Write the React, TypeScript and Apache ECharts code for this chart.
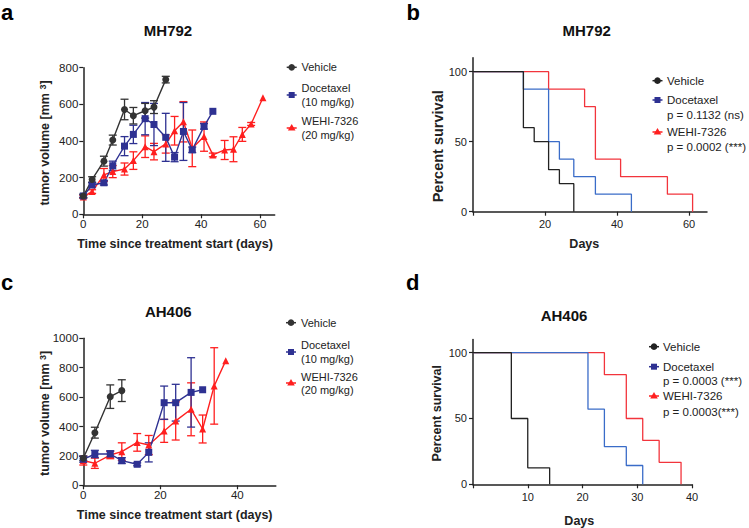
import React, { useEffect, useRef } from "react";
import * as echarts from "echarts";

const FONT = "'Liberation Sans', Arial, Helvetica, sans-serif";
const C_AXIS = "#222222";
const C_VEH = "#333333";
const C_DOC = "#2e3192";
const C_WEHI = "#ff1f1f";
const C_S_BLACK = "#222222";
const C_S_BLUE = "#3a6cc8";
const C_S_RED = "#f2343c";

// ---- Panel a: MH792 tumor volume ----
const mhVehDays = [0, 3, 7, 10, 14, 17, 21, 24, 28];
const mhVehMean = [100, 190, 290, 405, 572, 538, 565, 585, 735];
const mhVehErr = [10, 15, 27, 27, 56, 45, 40, 35, 18];

const mhDocDays = [0, 3, 7, 10, 14, 17, 21, 24, 28, 31, 34, 37, 41, 44];
const mhDocMean = [100, 160, 172, 265, 372, 436, 522, 490, 420, 312, 452, 352, 480, 562];
const mhDocErr = [8, 12, 12, 25, 52, 50, 88, 115, 131, 25, 158, 15, 15, 0];

const mhWehiDays = [0, 3, 7, 10, 14, 17, 21, 24, 28, 31, 34, 37, 41, 44, 48, 51, 54, 57, 61];
const mhWehiMean = [95, 124, 215, 233, 247, 293, 369, 342, 384, 456, 505, 360, 424, 324, 351, 355, 436, 493, 636];
const mhWehiErr = [8, 10, 35, 33, 33, 48, 59, 45, 50, 78, 110, 100, 80, 10, 52, 68, 38, 8, 0];

// ---- Panel b: MH792 survival ----
const mhSVehDays = [0, 14, 17, 21, 24, 28];
const mhSVehPct = [100, 60, 50, 30, 20, 0];
const mhSDocDays = [0, 14, 21, 24, 28, 34, 44];
const mhSDocPct = [100, 87.5, 50, 37.5, 25, 12.5, 0];
const mhSWehiDays = [0, 21, 31, 34, 41, 54, 61];
const mhSWehiPct = [100, 87.5, 75, 37.5, 25, 12.5, 0];

// ---- Panel c: AH406 tumor volume ----
const ahVehDays = [0, 3, 7, 10];
const ahVehMean = [184, 358, 603, 644];
const ahVehErr = [15, 37, 80, 74];

const ahDocDays = [0, 3, 7, 10, 14, 17, 21, 24, 28, 31];
const ahDocMean = [177, 213, 213, 168, 143, 224, 562, 562, 632, 650];
const ahDocErr = [20, 25, 22, 20, 10, 65, 113, 125, 236, 0];

const ahWehiDays = [0, 3, 7, 10, 14, 17, 21, 24, 28, 31, 34, 37];
const ahWehiMean = [168, 150, 206, 229, 292, 274, 370, 438, 517, 383, 676, 848];
const ahWehiErr = [30, 35, 25, 60, 60, 65, 78, 130, 180, 95, 260, 0];

// ---- Panel d: AH406 survival ----
const ahSVehDays = [0, 7, 10, 14];
const ahSVehPct = [100, 50, 12.5, 0];
const ahSDocDays = [0, 21, 24, 28, 31];
const ahSDocPct = [100, 57.1, 28.6, 14.3, 0];
const ahSWehiDays = [0, 24, 28, 31, 34, 38];
const ahSWehiPct = [100, 83.3, 50, 33.3, 16.7, 0];

// ---- tick labels ----
const aXTicks = [0, 20, 40, 60];
const aYTicks = [0, 200, 400, 600, 800];
const bXTicks = [20, 40, 60];
const bXTickMarks = [0, 20, 40, 60];
const cXTicks = [0, 20, 40];
const cYTicks = [0, 200, 400, 600, 800, 1000];
const dXTicks = [10, 20, 30, 40];
const dXTickMarks = [0, 10, 20, 30, 40];
const survYTicks = [0, 50, 100];

const zip = (x: number[], y: number[]) => x.map((d, i) => [d, y[i]]);
const zip3 = (x: number[], y: number[], e: number[]) => x.map((d, i) => [d, y[i], e[i]]);

function errSeries(color: string, idx: number, data: number[][]) {
  return {
    type: "custom",
    xAxisIndex: idx,
    yAxisIndex: idx,
    data,
    silent: true,
    z: 2,
    encode: { x: 0, y: 1 },
    renderItem: (_p: any, api: any) => {
      const x = api.value(0);
      const y = api.value(1);
      const e = api.value(2);
      if (!e) return { type: "group", children: [] };
      const top = api.coord([x, y + e]);
      const bot = api.coord([x, y - e]);
      const hw = 4;
      const style = { stroke: color, lineWidth: 1.3 };
      return {
        type: "group",
        children: [
          { type: "line", shape: { x1: top[0], y1: top[1], x2: bot[0], y2: bot[1] }, style },
          { type: "line", shape: { x1: top[0] - hw, y1: top[1], x2: top[0] + hw, y2: top[1] }, style },
          { type: "line", shape: { x1: bot[0] - hw, y1: bot[1], x2: bot[0] + hw, y2: bot[1] }, style },
        ],
      };
    },
  };
}

function lineSeries(name: string, color: string, idx: number, data: number[][], symbol: string, size: number) {
  return {
    type: "line",
    name,
    xAxisIndex: idx,
    yAxisIndex: idx,
    data,
    symbol,
    symbolSize: size,
    z: 3,
    lineStyle: { color, width: 1.4 },
    itemStyle: { color },
  };
}

function survSeries(name: string, color: string, idx: number, data: number[][]) {
  return {
    type: "line",
    name,
    xAxisIndex: idx,
    yAxisIndex: idx,
    data,
    step: "end",
    symbol: "none",
    showSymbol: false,
    lineStyle: { color, width: 1.3 },
    itemStyle: { color },
  };
}

const plain = (v: number) => String(v);

function xAxis(idx: number, max: number, labels: number[], ticks: number[], margin: number, fs: number) {
  return {
    type: "value",
    gridIndex: idx,
    min: 0,
    max,
    axisLine: { show: true, onZero: false, lineStyle: { color: C_AXIS, width: 1.5 } },
    axisTick: { show: true, length: 4, customValues: ticks, lineStyle: { color: C_AXIS, width: 1.2 } },
    axisLabel: { customValues: labels, formatter: plain, color: C_AXIS, fontFamily: FONT, fontSize: fs, margin },
    splitLine: { show: false },
  };
}

function yAxis(idx: number, max: number, labels: number[], margin: number, fs: number) {
  return {
    type: "value",
    gridIndex: idx,
    min: 0,
    max,
    axisLine: { show: true, onZero: false, lineStyle: { color: C_AXIS, width: 1.5 } },
    axisTick: { show: true, length: 4, customValues: labels, lineStyle: { color: C_AXIS, width: 1.2 } },
    axisLabel: { customValues: labels, formatter: plain, color: C_AXIS, fontFamily: FONT, fontSize: fs, margin },
    splitLine: { show: false },
  };
}

function txt(x: number, y: number, text: string, opts: any = {}) {
  return {
    type: "text",
    x,
    y,
    rotation: opts.rotation || 0,
    style: {
      text,
      fill: opts.fill || C_AXIS,
      fontFamily: FONT,
      fontSize: opts.fontSize || 11,
      fontWeight: opts.bold ? "bold" : "normal",
      align: opts.align || "left",
      textAlign: opts.align || "left",
      verticalAlign: "middle",
      textVerticalAlign: "middle",
      rich: opts.rich,
    },
  };
}

function legendSym(cx: number, cy: number, color: string, kind: string) {
  const els: any[] = [
    { type: "line", shape: { x1: cx - 5, y1: cy, x2: cx + 5, y2: cy }, style: { stroke: color, lineWidth: 1.5 } },
  ];
  if (kind === "circle") els.push({ type: "circle", shape: { cx, cy, r: 3.3 }, style: { fill: color } });
  if (kind === "rect") els.push({ type: "rect", shape: { x: cx - 3, y: cy - 3, width: 6, height: 6 }, style: { fill: color } });
  if (kind === "tri")
    els.push({
      type: "polygon",
      shape: { points: [[cx, cy - 4], [cx + 3.8, cy + 2.6], [cx - 3.8, cy + 2.6]] },
      style: { fill: color },
    });
  return els;
}

export default function App() {
  const ref = useRef<HTMLDivElement>(null);
  useEffect(() => {
    document.body.style.margin = "0";
    if (!ref.current) return;
    const chart = echarts.init(ref.current, undefined, { renderer: "svg" });
    const supRich = {
      s: { fontSize: 9, fontWeight: "bold", fontFamily: FONT, fill: C_AXIS, verticalAlign: "top" },
    };
    const option: any = {
      animation: false,
      backgroundColor: "#ffffff",
      textStyle: { fontFamily: FONT },
      grid: [
        { left: 83.3, top: 67.7, width: 191.4, height: 146.6 },
        { left: 473, top: 57.7, width: 234, height: 154 },
        { left: 83.3, top: 338.3, width: 192.5, height: 147 },
        { left: 473, top: 339.5, width: 219, height: 144.8 },
      ],
      xAxis: [
        xAxis(0, 65, aXTicks, aXTicks, 4, 11.5),
        xAxis(1, 65, bXTicks, bXTickMarks, 7, 11),
        xAxis(2, 50, cXTicks, cXTicks, 4, 11.5),
        xAxis(3, 40, dXTicks, dXTickMarks, 7, 11),
      ],
      yAxis: [
        yAxis(0, 800, aYTicks, 5, 11.5),
        yAxis(1, 110, survYTicks, 6, 11),
        yAxis(2, 1000, cYTicks, 5, 11.5),
        yAxis(3, 110, survYTicks, 6, 11),
      ],
      series: [
        // panel a
        errSeries(C_WEHI, 0, zip3(mhWehiDays, mhWehiMean, mhWehiErr)),
        errSeries(C_DOC, 0, zip3(mhDocDays, mhDocMean, mhDocErr)),
        errSeries(C_VEH, 0, zip3(mhVehDays, mhVehMean, mhVehErr)),
        lineSeries("WEHI-7326 (20 mg/kg)", C_WEHI, 0, zip(mhWehiDays, mhWehiMean), "triangle", 7),
        lineSeries("Docetaxel (10 mg/kg)", C_DOC, 0, zip(mhDocDays, mhDocMean), "rect", 7),
        lineSeries("Vehicle", C_VEH, 0, zip(mhVehDays, mhVehMean), "circle", 7),
        // panel b
        survSeries("WEHI-7326 survival MH792", C_S_RED, 1, zip(mhSWehiDays, mhSWehiPct)),
        survSeries("Docetaxel survival MH792", C_S_BLUE, 1, zip(mhSDocDays, mhSDocPct)),
        survSeries("Vehicle survival MH792", C_S_BLACK, 1, zip(mhSVehDays, mhSVehPct)),
        // panel c
        errSeries(C_WEHI, 2, zip3(ahWehiDays, ahWehiMean, ahWehiErr)),
        errSeries(C_DOC, 2, zip3(ahDocDays, ahDocMean, ahDocErr)),
        errSeries(C_VEH, 2, zip3(ahVehDays, ahVehMean, ahVehErr)),
        lineSeries("WEHI-7326 AH406", C_WEHI, 2, zip(ahWehiDays, ahWehiMean), "triangle", 7),
        lineSeries("Docetaxel AH406", C_DOC, 2, zip(ahDocDays, ahDocMean), "rect", 7),
        lineSeries("Vehicle AH406", C_VEH, 2, zip(ahVehDays, ahVehMean), "circle", 7),
        // panel d
        survSeries("WEHI-7326 survival AH406", C_S_RED, 3, zip(ahSWehiDays, ahSWehiPct)),
        survSeries("Docetaxel survival AH406", C_S_BLUE, 3, zip(ahSDocDays, ahSDocPct)),
        survSeries("Vehicle survival AH406", C_S_BLACK, 3, zip(ahSVehDays, ahSVehPct)),
      ],
      graphic: [
        // panel letters
        txt(1, 12, "a", { bold: true, fontSize: 22, fill: "#000" }),
        txt(406.5, 12.7, "b", { bold: true, fontSize: 22, fill: "#000" }),
        txt(1, 282, "c", { bold: true, fontSize: 22, fill: "#000" }),
        txt(406, 282.7, "d", { bold: true, fontSize: 22, fill: "#000" }),
        // titles
        txt(168, 30, "MH792", { bold: true, fontSize: 15, align: "center", fill: "#111" }),
        txt(586.7, 30, "MH792", { bold: true, fontSize: 15, align: "center", fill: "#111" }),
        txt(168.3, 311.7, "AH406", { bold: true, fontSize: 15, align: "center", fill: "#111" }),
        txt(564, 315, "AH406", { bold: true, fontSize: 15, align: "center", fill: "#111" }),
        // axis names
        txt(175, 244, "Time since treatment start (days)", { bold: true, fontSize: 12.5, align: "center" }),
        txt(45, 143, "tumor volume [mm {s|3}]", { bold: true, fontSize: 12.5, align: "center", rotation: Math.PI / 2, rich: supRich }),
        txt(584.3, 244, "Days", { bold: true, fontSize: 12.5, align: "center" }),
        txt(437.5, 146.3, "Percent survival", { bold: true, fontSize: 14.5, align: "center", rotation: Math.PI / 2 }),
        txt(174.7, 515, "Time since treatment start (days)", { bold: true, fontSize: 12.5, align: "center" }),
        txt(45, 413.3, "tumor volume [mm {s|3}]", { bold: true, fontSize: 12.5, align: "center", rotation: Math.PI / 2, rich: supRich }),
        txt(579.3, 521, "Days", { bold: true, fontSize: 12.5, align: "center" }),
        txt(436.7, 413.3, "Percent survival", { bold: true, fontSize: 12.5, align: "center", rotation: Math.PI / 2 }),
        // legend a
        ...legendSym(291.7, 67.3, C_VEH, "circle"),
        ...legendSym(291.7, 95, C_DOC, "rect"),
        ...legendSym(291.7, 128, C_WEHI, "tri"),
        txt(301.5, 67.3, "Vehicle"),
        txt(301.5, 88, "Docetaxel"),
        txt(301.5, 102, "(10 mg/kg)"),
        txt(301.5, 121, "WEHI-7326"),
        txt(301.5, 135, "(20 mg/kg)"),
        // legend c
        ...legendSym(291, 322.7, C_VEH, "circle"),
        ...legendSym(291, 352, C_DOC, "rect"),
        ...legendSym(291, 383, C_WEHI, "tri"),
        txt(301, 322.7, "Vehicle"),
        txt(301, 345, "Docetaxel"),
        txt(301, 359, "(10 mg/kg)"),
        txt(301, 376.5, "WEHI-7326"),
        txt(301, 390, "(20 mg/kg)"),
        // legend b
        ...legendSym(657.5, 80.7, C_S_BLACK, "circle"),
        ...legendSym(657.5, 100, C_DOC, "rect"),
        ...legendSym(657.5, 132, C_WEHI, "tri"),
        txt(667, 80.7, "Vehicle", { fontSize: 11.5 }),
        txt(667, 100, "Docetaxel", { fontSize: 11.5 }),
        txt(667, 115, "p = 0.1132 (ns)", { fontSize: 11.5 }),
        txt(667, 132, "WEHI-7326", { fontSize: 11.5 }),
        txt(667, 147, "p = 0.0002 (***)", { fontSize: 11.5 }),
        // legend d
        ...legendSym(654, 346.7, C_S_BLACK, "circle"),
        ...legendSym(654, 366.7, C_DOC, "rect"),
        ...legendSym(654, 396, C_WEHI, "tri"),
        txt(663, 346.7, "Vehicle", { fontSize: 11.5 }),
        txt(663, 366.7, "Docetaxel", { fontSize: 11.5 }),
        txt(663, 381, "p = 0.0003 (***)", { fontSize: 11.5 }),
        txt(663, 396, "WEHI-7326", { fontSize: 11.5 }),
        txt(663, 411.5, "p = 0.0003(***)", { fontSize: 11.5 }),
      ],
    };
    chart.setOption(option);
    return () => chart.dispose();
  }, []);
  return (
    <div
      ref={ref}
      style={{ width: 749, height: 528, position: "absolute", left: 0, top: 0, background: "#fff" }}
    />
  );
}
